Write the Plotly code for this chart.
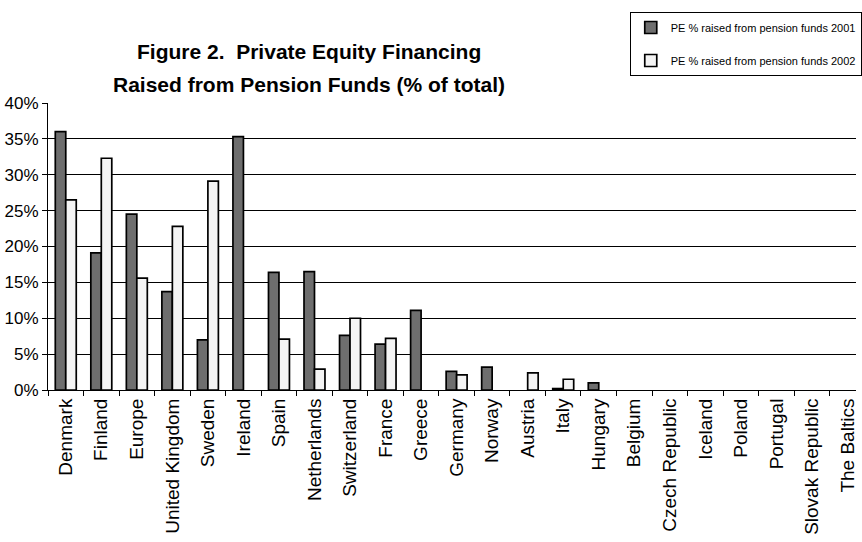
import plotly.graph_objects as go

categories = ["Denmark", "Finland", "Europe", "United Kingdom", "Sweden", "Ireland",
              "Spain", "Netherlands", "Switzerland", "France", "Greece", "Germany",
              "Norway", "Austria", "Italy", "Hungary", "Belgium", "Czech Republic",
              "Iceland", "Poland", "Portugal", "Slovak Republic", "The Baltics"]
pe_2001 = [36.0, 19.1, 24.5, 13.7, 7.0, 35.3, 16.4, 16.5, 7.6, 6.4, 11.1, 2.6,
           3.2, 0.0, 0.2, 1.0, 0, 0, 0, 0, 0, 0, 0]
pe_2002 = [26.5, 32.3, 15.6, 22.8, 29.1, 0.0, 7.1, 2.9, 10.0, 7.2, 0.0, 2.1,
           0.0, 2.4, 1.5, 0.0, 0, 0, 0, 0, 0, 0, 0]
y_ticks = [0, 5, 10, 15, 20, 25, 30, 35, 40]
title_lines = ["Figure 2.  Private Equity Financing", "Raised from Pension Funds (% of total)"]


def nz(vals):
    # zero-valued bars are not drawn in the original chart
    return [v if v else None for v in vals]


fig = go.Figure()
fig.add_trace(go.Bar(x=categories, y=nz(pe_2001), name="PE % raised from pension funds 2001",
                     marker=dict(color="#6e6e6e", line=dict(color="black", width=1.7)),
                     legendgroup="a"))
fig.add_trace(go.Bar(x=categories, y=nz(pe_2002), name="PE % raised from pension funds 2002",
                     marker=dict(color="#f4f4f4", line=dict(color="black", width=1.7)),
                     legendgroup="b"))

for txt, yy in zip(title_lines, [1.178, 1.063]):
    fig.add_annotation(text=f"<b>{txt}</b>", x=0.323, y=yy, xref="paper", yref="paper",
                       xanchor="center", yanchor="middle", showarrow=False,
                       font=dict(size=21, family="Liberation Sans, Arial", color="black"))

fig.update_layout(
    width=862, height=542,
    margin=dict(l=48, r=0, t=103, b=152),
    paper_bgcolor="white", plot_bgcolor="white",
    font=dict(family="Liberation Sans, Arial", color="black"),
    barmode="group", bargap=0.41, bargroupgap=0,
    legend=dict(x=0.72, y=1.317, xanchor="left", yanchor="top",
                xref="paper", yref="paper",
                bordercolor="black", borderwidth=1, bgcolor="white",
                font=dict(size=11), traceorder="grouped", tracegroupgap=14),
    showlegend=True,
)
fig.update_xaxes(type="category", range=[-0.5, 22.24], showline=True, linecolor="black",
                 linewidth=1, ticks="outside", tickson="boundaries", ticklen=5,
                 tickcolor="black", tickangle=-90, tickfont=dict(size=19),
                 showgrid=False)
fig.update_yaxes(range=[0, 40], tickvals=y_ticks, ticktext=[f"{v}%" for v in y_ticks],
                 showline=True, linecolor="black", linewidth=1, ticks="outside",
                 ticklen=5, tickcolor="black", tickfont=dict(size=17),
                 showgrid=True, gridcolor="black", gridwidth=1, zeroline=False)

fig.write_html("out.html")
